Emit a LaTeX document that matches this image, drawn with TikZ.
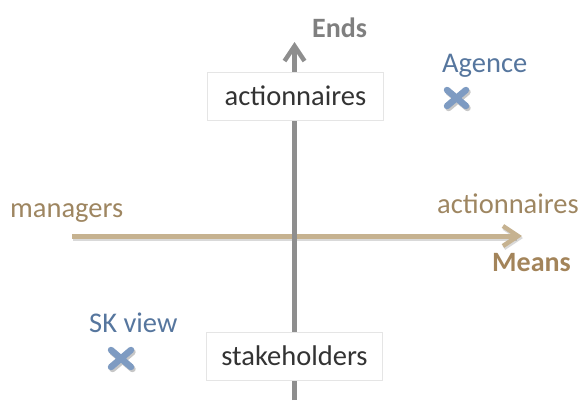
\documentclass[tikz,border=0pt]{standalone}
\usepackage{fontspec}
\setmainfont{Carlito}
\usetikzlibrary{arrows.meta}
\definecolor{axisgray}{HTML}{8E8E8E}
\definecolor{axistan}{HTML}{C6B290}
\definecolor{tantext}{HTML}{9E8661}
\definecolor{tanbold}{HTML}{A3845A}
\definecolor{bluetext}{HTML}{56769E}
\definecolor{xblue}{HTML}{7E9BC2}
\definecolor{endsgray}{HTML}{7F7F7F}
\definecolor{boxtext}{HTML}{333333}
\tikzset{
  lbl/.style={inner sep=0pt, anchor=base west, font=\fontsize{28.5}{32}\selectfont},
  boldlbl/.style={inner sep=0pt, anchor=base west, font=\fontsize{28}{30}\selectfont\bfseries},
  whitebox/.style={draw=black!10, fill=white, line width=0.8pt, minimum width=176pt, minimum height=48pt, inner sep=0pt, text=boxtext, font=\fontsize{28.5}{32}\selectfont},
  axisline/.style={line width=5pt, -{Straight Barb[length=15pt,width=20pt,line width=4.5pt]}},
  xmark/.style={line width=6.5pt, line cap=round, draw=xblue},
  xshadow/.style={line width=6.5pt, line cap=round, draw=black, opacity=0.22},
}
\begin{document}
\begin{tikzpicture}[x=1pt,y=-1pt]
\useasboundingbox (0,0) rectangle (581,400);
% axes
\coordinate (vbot) at (294.5,400);
\coordinate (vtop) at (294.5,42);
\coordinate (hleft) at (72,236);
\coordinate (hright) at (522,236);
\coordinate (hlefts) at (73,238);
\coordinate (hrights) at (523,238);
\draw[axisline, draw=black, opacity=0.15] (hlefts) -- (hrights);
\draw[axisline, draw=axistan] (hleft) -- (hright);
\draw[axisline, draw=axisgray] (vbot) -- (vtop);
% boxes
\node[whitebox] (top) at (295.5,96) {actionnaires};
\node[whitebox] (bot) at (294.5,356) {stakeholders};
% labels
\node[boldlbl, text=endsgray] (ends) at (312,37) {Ends};
\node[boldlbl, text=tanbold] (means) at (492,271) {Means};
\node[lbl, text=tantext] (mgr) at (10,217) {managers};
\node[lbl, text=tantext] (act) at (437,213) {actionnaires};
\node[lbl, text=bluetext] (ag) at (442,72) {Agence};
\node[lbl, text=bluetext] (sk) at (89,332) {SK view};
% X markers
\coordinate (a1) at (447,90); \coordinate (a2) at (466,106);
\coordinate (a3) at (466,90); \coordinate (a4) at (447,106);
\coordinate (a1s) at (448.5,92); \coordinate (a2s) at (467.5,108);
\coordinate (a3s) at (467.5,92); \coordinate (a4s) at (448.5,108);
\draw[xshadow] (a1s) -- (a2s) (a3s) -- (a4s);
\draw[xmark] (a1) -- (a2) (a3) -- (a4);
\coordinate (b1) at (111,350); \coordinate (b2) at (131,367);
\coordinate (b3) at (131,350); \coordinate (b4) at (111,367);
\coordinate (b1s) at (112.5,352); \coordinate (b2s) at (132.5,369);
\coordinate (b3s) at (132.5,352); \coordinate (b4s) at (112.5,369);
\draw[xshadow] (b1s) -- (b2s) (b3s) -- (b4s);
\draw[xmark] (b1) -- (b2) (b3) -- (b4);
\end{tikzpicture}
\end{document}
